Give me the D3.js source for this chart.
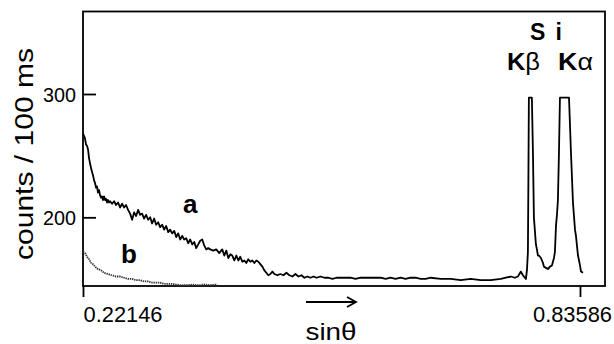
<!DOCTYPE html>
<html><head><meta charset="utf-8">
<script src="https://cdn.jsdelivr.net/npm/d3@7"></script>
<style>
body{margin:0;background:#fff;}
svg text{font-family:"Liberation Sans",Arial,Helvetica,sans-serif;fill:#000;}
</style></head>
<body><svg id="c" width="614" height="344"></svg>
<script>
// ---- data ----
const sinA = [0.2215,0.2239,0.2252,0.2264,0.2277,0.2289,0.2301,0.2314,0.2326,0.2339,0.2351,0.2363,0.2376,0.2388,0.2400,0.2413,0.2425,0.2438,0.2450,0.2462,0.2475,0.2487,0.2500,0.2512,0.2524,0.2537,0.2549,0.2574,0.2599,0.2623,0.2648,0.2673,0.2698,0.2723,0.2747,0.2772,0.2797,0.2822,0.2846,0.2871,0.2896,0.2921,0.2945,0.2970,0.2995,0.3020,0.3045,0.3069,0.3094,0.3119,0.3144,0.3168,0.3193,0.3218,0.3243,0.3268,0.3292,0.3317,0.3342,0.3367,0.3391,0.3416,0.3441,0.3466,0.3491,0.3515,0.3540,0.3565,0.3590,0.3614,0.3639,0.3664,0.3689,0.3714,0.3738,0.3763,0.3788,0.3825,0.3862,0.3899,0.3936,0.3961,0.3986,0.4011,0.4036,0.4060,0.4085,0.4110,0.4135,0.4159,0.4184,0.4209,0.4234,0.4258,0.4283,0.4308,0.4333,0.4358,0.4382,0.4407,0.4432,0.4457,0.4481,0.4506,0.4531,0.4556,0.4581,0.4618,0.4655,0.4692,0.4729,0.4766,0.4804,0.4841,0.4878,0.4915,0.4952,0.4989,0.5027,0.5064,0.5101,0.5150,0.5200,0.5249,0.5299,0.5349,0.5398,0.5460,0.5522,0.5584,0.5646,0.5708,0.5770,0.5832,0.5894,0.5956,0.6017,0.6079,0.6141,0.6203,0.6265,0.6327,0.6389,0.6451,0.6513,0.6637,0.6761,0.6885,0.7008,0.7132,0.7256,0.7380,0.7442,0.7504,0.7554,0.7591,0.7628,0.7653,0.7690,0.7703,0.7715,0.7721,0.7727,0.7764,0.7777,0.7789,0.7814,0.7826,0.7839,0.7851,0.7876,0.7901,0.7913,0.7938,0.7963,0.7987,0.8012,0.8037,0.8049,0.8062,0.8074,0.8086,0.8099,0.8111,0.8223,0.8247,0.8272,0.8297,0.8309,0.8334,0.8359,0.8371,0.8396];
const countsA = [268,264,259,258,255,248,244,240,237,234,230,228,224,225,220,222,218,216,217,214,217,214,215,212,214,212,213,211,213,210,212,208,211,208,210,206,203,198,204,201,206,202,203,199,202,198,200,195,199,194,196,192,194,190,193,188,190,187,189,184,187,182,185,182,183,179,182,178,180,175,178,181,182,177,174,175,174,173,174,171,174,169,173,167,170,169,165,169,165,168,164,165,163,166,164,165,163,165,164,162,160,157,155,153,154,156,154,153,154,153,155,153,152,154,152,153,151,152,151,152,151,152,151,151,150,151,151,151,151,150,151,151,151,151,151,150,151,150,151,150,151,151,150,150,151,150,150,149,150,149,149,150,151,152,151,152,156,153,150,157,172,230,297,297,253,200,178,174,169,169,167,163,160,159,158,160,161,167,172,193,202,214,253,297,297,253,212,190,185,169,161,156,155];
const sinB = [0.2215,0.2239,0.2264,0.2289,0.2314,0.2339,0.2363,0.2400,0.2438,0.2475,0.2524,0.2574,0.2623,0.2673,0.2723,0.2772,0.2822,0.2871,0.2921,0.2970,0.3020,0.3069,0.3119,0.3168,0.3218,0.3268,0.3317,0.3367,0.3416,0.3466,0.3515,0.3565,0.3614,0.3664,0.3714,0.3788,0.3874];
const countsB = [172,171,168,166,163,162,160,158,157,155,154,153,152,152,151,150,150,149,149,148,148,147,147,147,146,146,146,145.5,145,145,145,145.5,145,145,145.5,145,145.5];
const yTicks = [200, 300];
const xTicks = [0.22146, 0.83586];
const xTickLabels = ["0.22146", "0.83586"];

// ---- chart ----
const svg = d3.select("#c");
const x = d3.scaleLinear().domain([0.22146, 0.8668]).range([83, 605]);
const y = d3.scaleLinear().domain([144.3, 366.9]).range([286, 11.5]);

// frame
svg.append("rect")
  .attr("x", x.range()[0]).attr("y", y.range()[1])
  .attr("width", x.range()[1]-x.range()[0]).attr("height", y.range()[0]-y.range()[1])
  .attr("fill", "none").attr("stroke", "#000").attr("stroke-width", 1.8);

// y axis
const gy = svg.append("g").attr("transform", `translate(${x.range()[0]},0)`)
  .call(d3.axisLeft(y).tickValues(yTicks).tickSize(-13).tickPadding(7).tickFormat(d3.format("d")));
gy.select(".domain").remove();
gy.selectAll(".tick line").attr("stroke", "#000").attr("stroke-width", 1.8);
gy.selectAll(".tick text").attr("font-size", 20.5).attr("font-family", "Liberation Sans, Arial, sans-serif")
  .attr("textLength", 33).attr("lengthAdjust", "spacingAndGlyphs").attr("dy", "0.36em");

// x axis
const gx = svg.append("g").attr("transform", `translate(0,${y.range()[0]})`)
  .call(d3.axisBottom(x).tickValues(xTicks).tickSize(11).tickFormat((d, i) => xTickLabels[i]));
gx.select(".domain").remove();
gx.selectAll(".tick line").attr("stroke", "#000").attr("stroke-width", 1.8);
gx.selectAll(".tick text").attr("font-size", 21.5).attr("font-family", "Liberation Sans, Arial, sans-serif")
  .attr("y", 36).attr("dy", 0)
  .attr("textLength", 79).attr("lengthAdjust", "spacingAndGlyphs")
  .attr("text-anchor", (d, i) => i === 0 ? "start" : "middle")
  .attr("dx", (d, i) => i === 0 ? 0 : -8);

// series
const line = d3.line().x(d => x(d[0])).y(d => y(d[1]));
svg.append("path")
  .datum(sinB.map((s, i) => [s, countsB[i]]))
  .attr("d", line).attr("fill", "none").attr("stroke", "#333")
  .attr("stroke-width", 1.8).attr("stroke-dasharray", "1.4,0.8");
svg.append("path")
  .datum(sinA.map((s, i) => [s, countsA[i]]))
  .attr("d", line).attr("fill", "none").attr("stroke", "#000")
  .attr("stroke-width", 1.8).attr("stroke-linejoin", "round");

// labels
svg.append("text").attr("transform", "translate(33,154) rotate(-90)")
  .attr("text-anchor", "middle").attr("font-size", 25)
  .attr("textLength", 212).attr("lengthAdjust", "spacingAndGlyphs")
  .text("counts / 100 ms");
svg.append("text").attr("x", 331).attr("y", 340).attr("text-anchor", "middle")
  .attr("font-size", 24).attr("textLength", 51).attr("lengthAdjust", "spacingAndGlyphs").text("sinθ");
// arrow
svg.append("path").attr("d", "M306,302 H356 M347,297 L356,302 L347,307")
  .attr("fill", "none").attr("stroke", "#000").attr("stroke-width", 1.8);

svg.append("text").attr("x", 183).attr("y", 213).attr("font-size", 26).attr("font-weight", "bold").text("a");
svg.append("text").attr("x", 121).attr("y", 263).attr("font-size", 26).attr("font-weight", "bold").text("b");
svg.append("text").attr("x", 530).attr("y", 40).attr("font-size", 23).attr("font-weight", "bold")
  .attr("textLength", 32).attr("lengthAdjust", "spacing").text("Si");
const kb = svg.append("text").attr("x", 507).attr("y", 70).attr("font-size", 24)
  .attr("textLength", 33).attr("lengthAdjust", "spacingAndGlyphs");
kb.append("tspan").attr("font-weight", "bold").text("K");
kb.append("tspan").text("β");
const ka = svg.append("text").attr("x", 558).attr("y", 70).attr("font-size", 24)
  .attr("textLength", 35).attr("lengthAdjust", "spacingAndGlyphs");
ka.append("tspan").attr("font-weight", "bold").text("K");
ka.append("tspan").text("α");
</script></body></html>
